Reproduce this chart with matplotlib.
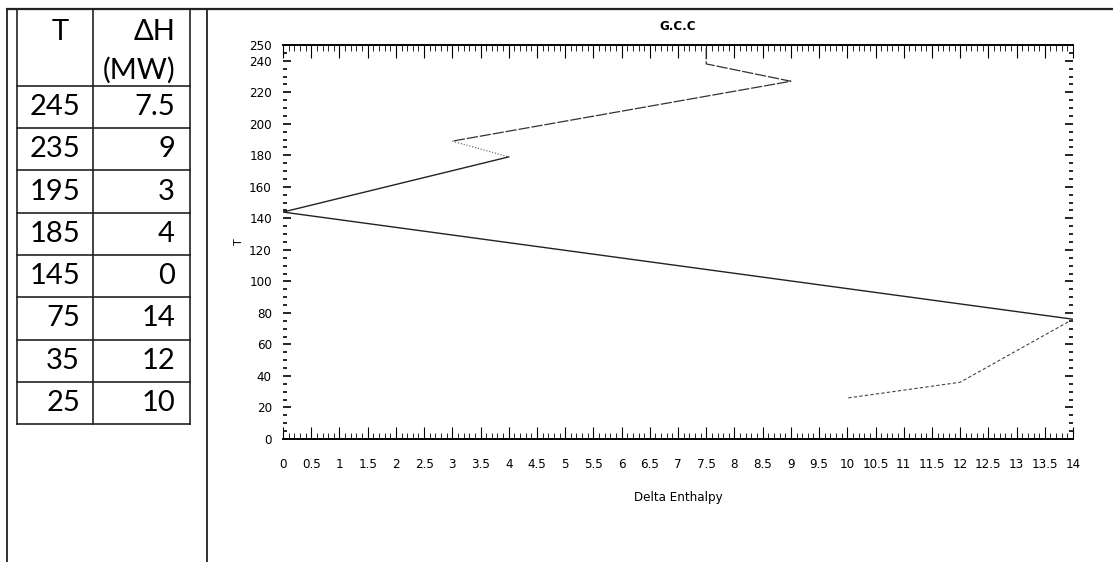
import numpy as np
import matplotlib
matplotlib.use('Agg')
import matplotlib.pyplot as plt
from matplotlib.lines import Line2D
from matplotlib.ticker import MultipleLocator, FormatStrFormatter

W, H = 1113, 562

# table values (left side of the page)
table_T = [245, 235, 195, 185, 145, 75, 35, 25]
table_dH = ['7.5', '9', '3', '4', '0', '14', '12', '10']

# curve as it is drawn in the chart
gcc_dH = [7.5, 7.5, 9, 3, 4, 0, 14, 12, 10]
gcc_T = [248, 238, 227, 189, 179, 144, 76, 36, 26]

x_ticks = np.arange(0, 14.01, 0.5)
y_ticks = [0, 20, 40, 60, 80, 100, 120, 140, 160, 180, 200, 220, 240, 250]

chart_font = ['DejaVu Sans']
table_font = ['Lato', 'DejaVu Sans']


def fx(px):
    return px / W


def fy(py):
    return 1 - py / H


fig = plt.figure(figsize=(W / 100, H / 100), dpi=100)


def hline(y, x0, x1, lw=1.3):
    fig.add_artist(Line2D([fx(x0), fx(x1)], [fy(y), fy(y)], color='#222222', lw=lw))


def vline(x, y0, y1, lw=1.3):
    fig.add_artist(Line2D([fx(x), fx(x)], [fy(y0), fy(y1)], color='#222222', lw=lw))


##############
### page frame
##############
hline(9, 7, W, lw=1.6)
vline(7, 9, H)
vline(207, 9, H)

##############
### table
##############
col_x = [17, 93, 190]
row_top = 10
head_bottom = 86
row_h = 42.25
n = len(table_T)
table_bottom = head_bottom + n * row_h

for x in col_x:
    vline(x, row_top, table_bottom, lw=1.2)
hline(head_bottom, col_x[0], col_x[2], lw=1.2)
for i in range(n):
    hline(head_bottom + (i + 1) * row_h, col_x[0], col_x[2], lw=1.2)

fig.text(fx(col_x[1] - 24), fy(32), 'T', ha='right', va='center',
         fontsize=21, family=table_font)
fig.text(fx(col_x[2] - 15), fy(32), 'ΔH', ha='right', va='center',
         fontsize=21, family=table_font)
fig.text(fx(col_x[2] - 15), fy(70), '(MW)', ha='right', va='center',
         fontsize=21, family=table_font)

for i, (t, dh) in enumerate(zip(table_T, table_dH)):
    yc = head_bottom + (i + 0.5) * row_h
    fig.text(fx(col_x[1] - 13), fy(yc), str(t), ha='right', va='center',
             fontsize=21, family=table_font)
    fig.text(fx(col_x[2] - 15), fy(yc), dh, ha='right', va='center',
             fontsize=21, family=table_font)

##############
### G.C.C chart
##############
ax = fig.add_axes([fx(283), fy(439), fx(1073) - fx(283), fy(45) - fy(439)])

# segment styles roughly as they look on the scan
ax.plot(gcc_dH[0:4], gcc_T[0:4], color='#333333', lw=0.9, ls=(0, (9, 1.5)))
ax.plot(gcc_dH[3:5], gcc_T[3:5], color='#555555', lw=0.8, ls=':')
ax.plot(gcc_dH[4:7], gcc_T[4:7], color='#222222', lw=1.0)
ax.plot(gcc_dH[6:9], gcc_T[6:9], color='#444444', lw=0.8, ls=(0, (3, 2)))

ax.set_xlim(0, 14)
ax.set_ylim(0, 250)
ax.set_xticks(x_ticks)
ax.set_yticks(y_ticks)
ax.xaxis.set_minor_locator(MultipleLocator(0.1))
ax.yaxis.set_minor_locator(MultipleLocator(5))
ax.xaxis.set_major_formatter(FormatStrFormatter('%g'))

ax.spines['left'].set_visible(False)
ax.spines['right'].set_visible(False)
ax.spines['top'].set_linewidth(1.4)
ax.spines['bottom'].set_linewidth(1.4)

ax.tick_params(axis='x', which='major', direction='in', top=True, bottom=True,
               length=9, width=0.8, pad=14, labelsize=9.5)
ax.tick_params(axis='x', which='minor', direction='in', top=True, bottom=True,
               length=4, width=0.6)
ax.tick_params(axis='y', which='major', direction='in', left=True, right=True,
               length=6, width=1.2, pad=8, labelsize=9.5)
ax.tick_params(axis='y', which='minor', direction='in', left=True, right=True,
               length=3, width=1.2)
for lab in ax.get_xticklabels() + ax.get_yticklabels():
    lab.set_family(chart_font)
    lab.set_stretch('condensed')

ax.set_title('G.C.C', fontsize=9.5, fontweight='bold', family=chart_font,
             stretch='condensed', pad=11)
ax.set_xlabel('Delta Enthalpy', fontsize=9.5, family=chart_font,
              stretch='condensed', labelpad=14)
ax.set_ylabel('T', fontsize=8, family=chart_font, labelpad=4)

fig.savefig('out.png', dpi=100)
